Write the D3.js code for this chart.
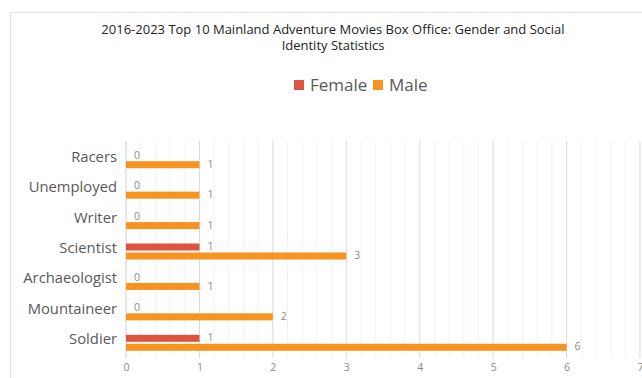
<!DOCTYPE html>
<html>
<head>
<meta charset="utf-8">
<script src="https://cdn.jsdelivr.net/npm/d3@7"></script>
<style>
  body { margin: 0; background: #fff; }
  text { font-family: "Open Sans", "Noto Sans", sans-serif; }
</style>
</head>
<body>
<svg id="chart" width="642" height="378"></svg>
<script>
const width = 642;
const height = 378;

const categories = ["Racers", "Unemployed", "Writer", "Scientist", "Archaeologist", "Mountaineer", "Soldier"];
const female = [0, 0, 0, 1, 0, 0, 1];
const male = [1, 1, 1, 3, 1, 2, 6];
const seriesNames = ["Female", "Male"];
const colors = ["#dd5440", "#f7941f"];
const xTicks = [0, 1, 2, 3, 4, 5, 6, 7];
const titleLines = ["2016-2023 Top 10 Mainland Adventure Movies Box Office: Gender and Social", "Identity Statistics"];

const margin = { top: 141, left: 126, right: 2, bottom: 20 };

const svg = d3.select("#chart");

// outer frame
svg.append("rect")
  .attr("x", 10.5).attr("y", 12.5)
  .attr("width", 700).attr("height", 400)
  .attr("fill", "none").attr("stroke", "#e3e3e3");

// title, one text per line
svg.append("g").selectAll("text").data(titleLines).join("text")
  .attr("x", 333)
  .attr("y", (d, i) => 34 + i * 16)
  .attr("text-anchor", "middle")
  .attr("font-size", 13).attr("fill", "#222")
  .text(d => d);

const x = d3.scaleLinear().domain([0, 7]).range([margin.left, 640]);
const y = d3.scaleBand().domain(categories).range([margin.top + 4, height - margin.bottom]);

// minor grid
const minor = d3.range(0, 7.01, 0.2).filter(v => Math.abs(v - Math.round(v)) > 0.01);
svg.append("g").selectAll("line").data(minor).join("line")
  .attr("x1", d => x(d)).attr("x2", d => x(d))
  .attr("y1", margin.top).attr("y2", height - margin.bottom)
  .attr("stroke", "#f2f2f2");

// major grid
svg.append("g").selectAll("line").data(xTicks.slice(1)).join("line")
  .attr("x1", d => x(d)).attr("x2", d => x(d))
  .attr("y1", margin.top).attr("y2", height - margin.bottom)
  .attr("stroke", "#d9d9d9");

// y axis line
svg.append("line")
  .attr("x1", x(0)).attr("x2", x(0))
  .attr("y1", margin.top).attr("y2", height - margin.bottom)
  .attr("stroke", "#cfcfcf");

// x tick labels
const xAxis = svg.append("g")
  .attr("transform", `translate(0,${height - margin.bottom})`)
  .call(d3.axisBottom(x).tickValues(xTicks).tickFormat(d3.format("d")).tickSize(0).tickPadding(6));
xAxis.select(".domain").remove();
xAxis.selectAll("text").attr("font-size", 10.5).attr("fill", "#8a8a8a")
  .attr("font-family", "'Open Sans', sans-serif");

// category labels
const yAxis = svg.append("g")
  .attr("transform", `translate(${x(0)},0)`)
  .call(d3.axisLeft(y).tickSize(0).tickPadding(9));
yAxis.select(".domain").remove();
yAxis.selectAll("text").attr("font-size", 14.8).attr("fill", "#595959")
  .attr("font-family", "'Open Sans', sans-serif")
  .attr("dy", "0.1em");

// bars
const barH = 7;
const gap = 2;
const series = [female, male];
series.forEach((vals, s) => {
  const g = svg.append("g");
  const yOff = d => y(d) + y.bandwidth() / 2 + (s === 0 ? -barH - gap / 2 : gap / 2);
  g.selectAll("rect").data(categories).join("rect")
    .attr("x", x(0))
    .attr("y", yOff)
    .attr("width", (d, i) => x(vals[i]) - x(0))
    .attr("height", barH)
    .attr("fill", colors[s]);
  g.selectAll("text").data(categories).join("text")
    .attr("x", (d, i) => x(vals[i]) + 8)
    .attr("y", d => yOff(d) + barH / 2)
    .attr("dy", "0.3em")
    .attr("font-size", 10.5)
    .attr("fill", "#8a8a8a")
    .text((d, i) => vals[i]);
});

// legend
const legend = svg.append("g").attr("transform", "translate(294,85)");
const legendX = [0, 79];
seriesNames.forEach((name, i) => {
  legend.append("rect")
    .attr("x", legendX[i]).attr("y", -5)
    .attr("width", 10).attr("height", 10)
    .attr("fill", colors[i]);
  legend.append("text")
    .attr("x", legendX[i] + 16).attr("y", 0)
    .attr("dy", "0.35em")
    .attr("font-size", 17).attr("fill", "#595959")
    .text(name);
});
</script>
</body>
</html>
